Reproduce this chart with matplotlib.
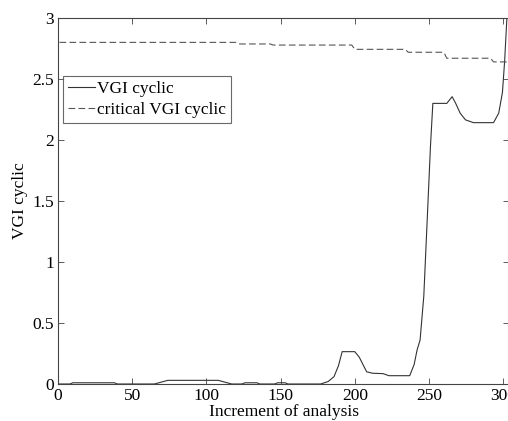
import matplotlib
matplotlib.use('Agg')
import matplotlib.pyplot as plt

# ==========================================
# data
# ==========================================
vgi_x = [0, 8, 10, 38, 40, 65, 74, 108, 117, 124, 126, 134, 136, 146, 148, 153, 155,
         177, 182, 186, 189, 191.5, 200, 203, 208, 212, 219, 223, 237,
         240, 242, 244, 246.5, 249, 251, 252.6,
         262, 265.6, 268, 271, 274.6, 280, 293.5, 297, 299.5, 301, 302.5]
vgi_y = [0, 0, 0.01, 0.01, 0, 0, 0.03, 0.03, 0, 0, 0.01, 0.01, 0, 0, 0.01, 0.01, 0,
         0, 0.02, 0.06, 0.15, 0.265, 0.265, 0.22, 0.10, 0.088, 0.085, 0.068, 0.068,
         0.16, 0.28, 0.36, 0.72, 1.40, 1.95, 2.30,
         2.30, 2.355, 2.30, 2.22, 2.165, 2.142, 2.142, 2.22, 2.39, 2.65, 3.0]

crit_x = [1, 120.5, 122.5, 143, 145, 198, 200, 234, 236, 260, 262, 291.5, 293.5, 304]
crit_y = [2.80, 2.80, 2.787, 2.787, 2.778, 2.778, 2.743, 2.743, 2.719, 2.719,
          2.67, 2.67, 2.64, 2.64]

x_ticks = [0, 50, 100, 150, 200, 250, 300]
y_ticks = [0, 0.5, 1, 1.5, 2, 2.5, 3]
y_tick_labels = ['0', '0.5', '1', '1.5', '2', '2.5', '3']

plt.rcParams['font.family'] = ['Liberation Serif', 'DejaVu Serif']
plt.rcParams['font.size'] = 12.5

fig = plt.figure(figsize=(5.08, 4.21), dpi=100)
ax = fig.add_axes([0.1142, 0.0879, 0.888, 0.8694])

ax.plot(vgi_x, vgi_y, color='#333333', lw=0.8, label='VGI cyclic')
ax.plot(crit_x, crit_y, color='#555555', lw=0.8, dashes=(6, 3), label='critical VGI cyclic')

ax.set_xlim(0, 304)
ax.set_ylim(0, 3)
ax.set_xticks(x_ticks)
ax.set_yticks(y_ticks)
ax.set_yticklabels(y_tick_labels)
# MATLAB-style: ticks inward on all four sides
ax.tick_params(direction='in', length=4, width=0.6, color='#444444',
               top=True, right=True, pad=3, labelsize=12.5)
for s in ax.spines.values():
    s.set_color('#444444')
    s.set_linewidth(0.8)

ax.set_xlabel('Increment of analysis', labelpad=0)
ax.set_ylabel('VGI cyclic', labelpad=3)

leg = ax.legend(loc='upper left', bbox_to_anchor=(0.011, 0.8415), borderaxespad=0,
                fancybox=False, handlelength=1.55, handletextpad=0.1,
                labelspacing=0.25, borderpad=0.3, fontsize=12.5)
leg.get_frame().set_edgecolor('#444444')
leg.get_frame().set_linewidth(0.8)

plt.savefig('out.png', dpi=100)
